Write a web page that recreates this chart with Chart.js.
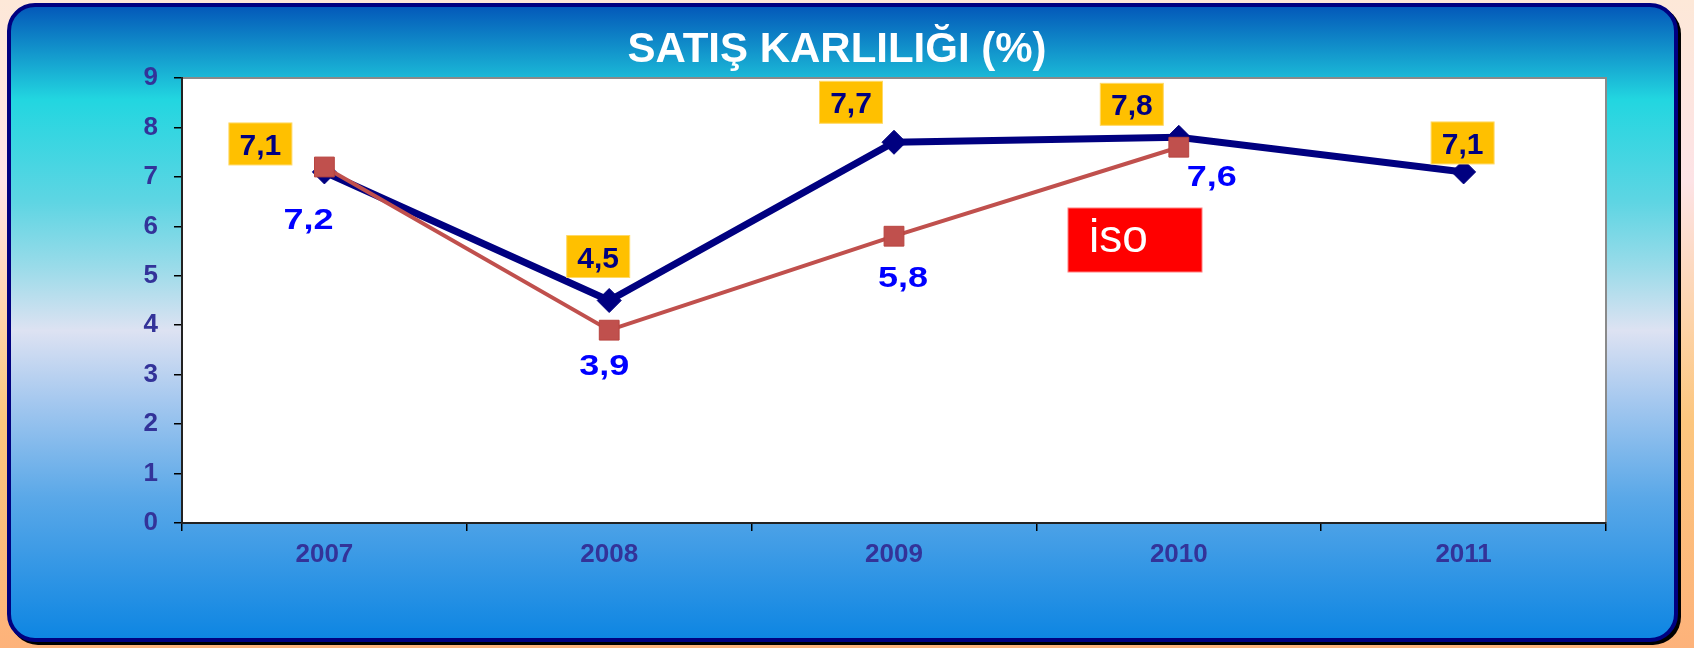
<!DOCTYPE html>
<html>
<head>
<meta charset="utf-8">
<script src="https://cdn.jsdelivr.net/npm/chart.js@4"></script>
<style>
  body { margin: 0; background: #fdd8b8; }
  canvas { display: block; }
</style>
</head>
<body>
<canvas id="karChart" width="1694" height="648"></canvas>
<script>
const years = ["2007", "2008", "2009", "2010", "2011"];
const firmValues = [7.1, 4.5, 7.7, 7.8, 7.1];
const isoValues = [7.2, 3.9, 5.8, 7.6, null];
const yMin = 0;
const yMax = 9;
const titleText = "SATIŞ KARLILIĞI (%)";
const isoText = "iso";

// label offsets from their points (px)
const firmLabelOffsets = [[-64, -28], [-11, -44], [-43, -40], [-47, -33], [-1, -29]];
const isoLabelOffsets = [[-16, 51], [-5, 34], [9, 40], [33, 28], [0, 0]];

const ARIAL = '"Liberation Sans", Arial, sans-serif';
const fmt = (v) => v.toFixed(1).replace(".", ",");

const roundRect = (ctx, x, y, w, h, r) => {
  ctx.beginPath();
  ctx.moveTo(x + r, y);
  ctx.lineTo(x + w - r, y);
  ctx.arcTo(x + w, y, x + w, y + r, r);
  ctx.lineTo(x + w, y + h - r);
  ctx.arcTo(x + w, y + h, x + w - r, y + h, r);
  ctx.lineTo(x + r, y + h);
  ctx.arcTo(x, y + h, x, y + h - r, r);
  ctx.lineTo(x, y + r);
  ctx.arcTo(x, y, x + r, y, r);
  ctx.closePath();
};

const framePlugin = {
  id: "frame",
  beforeDraw(chart) {
    const { ctx, width, height, chartArea: a } = chart;
    ctx.save();
    // page background
    let g = ctx.createLinearGradient(0, 0, 0, height);
    g.addColorStop(0, "#fde8d8");
    g.addColorStop(0.28, "#fde3e6");
    g.addColorStop(0.5, "#fdd3a8");
    g.addColorStop(0.65, "#fcc67e");
    g.addColorStop(1, "#fdb27a");
    ctx.fillStyle = g;
    ctx.fillRect(0, 0, width, height);

    // shadow
    ctx.fillStyle = "#000";
    roundRect(ctx, 10, 6, 1671, 639, 28);
    ctx.fill();

    // blue frame
    g = ctx.createLinearGradient(0, 3, 0, 645);
    g.addColorStop(0, "#0254b8");
    g.addColorStop(0.05, "#0d7fc5");
    g.addColorStop(0.15, "#22d6e0");
    g.addColorStop(0.31, "#5ed5e3");
    g.addColorStop(0.41, "#99dbe9");
    g.addColorStop(0.51, "#dde2f2");
    g.addColorStop(0.62, "#a5c8ef");
    g.addColorStop(0.77, "#5aa8e8");
    g.addColorStop(1, "#0a84e2");
    roundRect(ctx, 9, 5, 1667, 635, 26);
    ctx.fillStyle = g;
    ctx.fill();
    ctx.lineWidth = 4;
    ctx.strokeStyle = "#000080";
    ctx.stroke();

    // plot area
    ctx.fillStyle = "#fff";
    ctx.fillRect(a.left, a.top, a.right - a.left, a.bottom - a.top);
    ctx.strokeStyle = "#8a8a8a";
    ctx.lineWidth = 2;
    ctx.beginPath();
    ctx.moveTo(a.left, a.top);
    ctx.lineTo(a.right, a.top);
    ctx.lineTo(a.right, a.bottom);
    ctx.stroke();

    // title
    ctx.fillStyle = "#fff";
    ctx.font = `bold 42px ${ARIAL}`;
    ctx.textAlign = "center";
    ctx.textBaseline = "alphabetic";
    ctx.fillText(titleText, 837, 62);
    ctx.restore();
  },
  afterDatasetsDraw(chart) {
    const { ctx, chartArea: a } = chart;
    const firmMeta = chart.getDatasetMeta(0);
    const isoMeta = chart.getDatasetMeta(1);
    ctx.save();
    ctx.textAlign = "center";
    ctx.textBaseline = "alphabetic";

    // gold boxed labels
    ctx.font = `bold 30px ${ARIAL}`;
    firmValues.forEach((v, i) => {
      const p = firmMeta.data[i];
      const cx = p.x + firmLabelOffsets[i][0];
      const cy = p.y + firmLabelOffsets[i][1];
      ctx.fillStyle = "#ffc000";
      ctx.fillRect(cx - 31.5, cy - 21, 63, 42);
      ctx.strokeStyle = "#ffd966";
      ctx.lineWidth = 1;
      ctx.strokeRect(cx - 31.5, cy - 21, 63, 42);
      ctx.fillStyle = "#000080";
      ctx.fillText(fmt(v), cx, cy + 11);
    });

    // blue labels (wide bold text)
    ctx.font = `bold 30px ${ARIAL}`;
    ctx.fillStyle = "#0000ff";
    isoValues.forEach((v, i) => {
      if (v === null) return;
      const p = isoMeta.data[i];
      const cx = p.x + isoLabelOffsets[i][0];
      const cy = p.y + isoLabelOffsets[i][1];
      ctx.save();
      ctx.translate(cx, cy + 11);
      ctx.scale(1.2, 1);
      ctx.fillText(fmt(v), 0, 0);
      ctx.restore();
    });

    // iso tag
    const bx = a.left + 886;
    const by = a.top + 130;
    ctx.fillStyle = "#ff0000";
    ctx.fillRect(bx, by, 134, 64);
    ctx.strokeStyle = "#ff8080";
    ctx.strokeRect(bx, by, 134, 64);
    ctx.fillStyle = "#fff";
    ctx.textAlign = "left";
    ctx.font = `46px ${ARIAL}`;
    ctx.fillText(isoText, bx + 21, by + 44);
    ctx.restore();
  },
};

const tickFont = { family: ARIAL, size: 26, weight: "bold" };

new Chart(document.getElementById("karChart"), {
  type: "line",
  data: {
    labels: years,
    datasets: [
      {
        label: "Firma",
        data: firmValues,
        borderColor: "#000080",
        borderWidth: 7,
        pointStyle: "rectRot",
        pointRadius: 12,
        pointBackgroundColor: "#000080",
        pointBorderColor: "#000080",
        pointBorderWidth: 1,
        tension: 0,
        order: 2,
      },
      {
        label: "İSO",
        data: isoValues,
        borderColor: "#c0504d",
        borderWidth: 4,
        pointStyle: "rect",
        pointRadius: 14,
        pointBackgroundColor: "#c0504d",
        pointBorderColor: "#b8443f",
        pointBorderWidth: 1,
        tension: 0,
        spanGaps: false,
        order: 1,
      },
    ],
  },
  options: {
    responsive: false,
    animation: false,
    layout: { padding: { left: 0, top: 78, right: 88, bottom: 65 } },
    plugins: {
      legend: { display: false },
      tooltip: { enabled: false },
      title: { display: false },
    },
    scales: {
      x: {
        type: "category",
        offset: true,
        grid: { offset: true, drawOnChartArea: false, drawTicks: true, tickLength: 8, color: "#000", lineWidth: 1.5 },
        border: { display: true, color: "#222", width: 2 },
        ticks: { font: tickFont, color: "#333399", padding: 8, maxRotation: 0 },
        afterFit: (s) => { s.height = 60; },
      },
      y: {
        min: yMin,
        max: yMax,
        grid: { drawOnChartArea: false, drawTicks: true, tickLength: 8, color: "#000", lineWidth: 1.5 },
        border: { display: true, color: "#222", width: 2 },
        ticks: { stepSize: 1, font: tickFont, color: "#333399", padding: 16 },
        afterFit: (s) => { s.width = 182; },
      },
    },
  },
  plugins: [framePlugin],
});
</script>
</body>
</html>
